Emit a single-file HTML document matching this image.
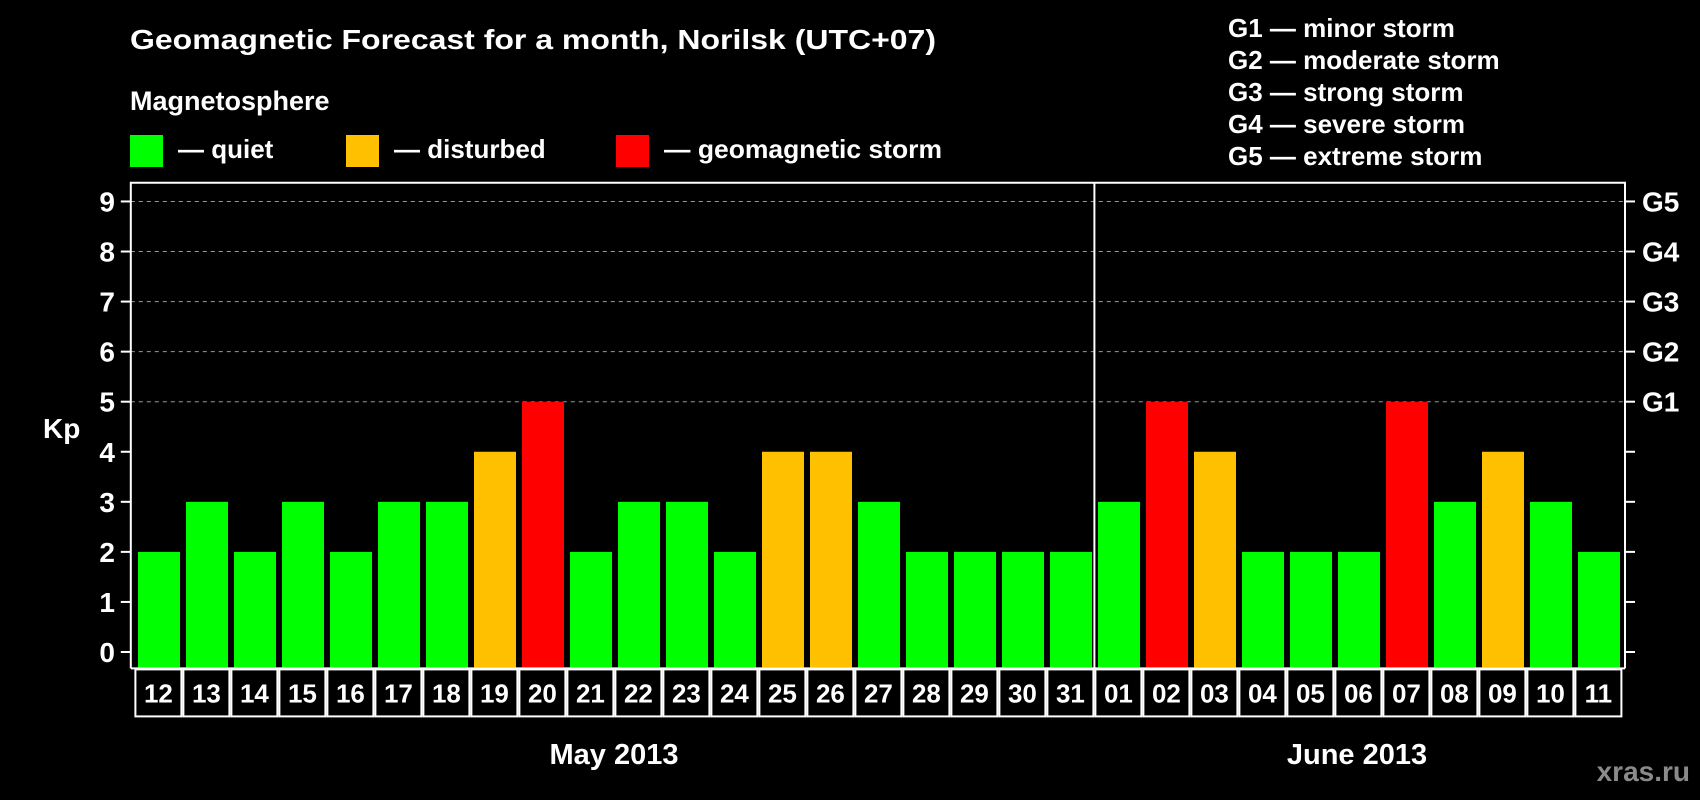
<!DOCTYPE html>
<html><head><meta charset="utf-8"><style>
html,body{margin:0;padding:0;background:#000;width:1700px;height:800px;overflow:hidden}
svg{display:block;font-family:"Liberation Sans",Arial,sans-serif;font-weight:bold}
</style></head><body>
<svg id="chart" width="1700" height="800" viewBox="0 0 1700 800" xmlns="http://www.w3.org/2000/svg">
<rect width="1700" height="800" fill="#000"/>
<text x="130" y="49" fill="#fff" font-size="28" textLength="806" lengthAdjust="spacingAndGlyphs">Geomagnetic Forecast for a month, Norilsk (UTC+07)</text>
<text x="130" y="110" fill="#fff" font-size="27">Magnetosphere</text>
<g><rect x="130" y="135" width="33" height="32" fill="#00ff00"/><text x="178" y="158" fill="#fff" font-size="26">— quiet</text></g>
<g><rect x="346" y="135" width="33" height="32" fill="#ffc000"/><text x="394" y="158" fill="#fff" font-size="26">— disturbed</text></g>
<g><rect x="616" y="135" width="33" height="32" fill="#ff0000"/><text x="664" y="158" fill="#fff" font-size="26" textLength="278" lengthAdjust="spacingAndGlyphs">— geomagnetic storm</text></g>
<g fill="#fff" font-size="26">
<text x="1228" y="37">G1 — minor storm</text>
<text x="1228" y="69">G2 — moderate storm</text>
<text x="1228" y="101">G3 — strong storm</text>
<text x="1228" y="133">G4 — severe storm</text>
<text x="1228" y="165">G5 — extreme storm</text>
</g>
<text x="43" y="438" fill="#fff" font-size="28">Kp</text>
<g id="grid"></g><g id="bars"></g><g id="axes"></g><g id="days"></g>
<text x="614" y="764" fill="#fff" font-size="29" text-anchor="middle">May 2013</text>
<text x="1357" y="764" fill="#fff" font-size="29" text-anchor="middle">June 2013</text>
<text x="1690" y="781" fill="#8a8a8a" font-size="28" text-anchor="end">xras.ru</text>
</svg>
<script>
const days = ["12","13","14","15","16","17","18","19","20","21","22","23","24","25","26","27","28","29","30","31","01","02","03","04","05","06","07","08","09","10","11"];
const kpValues = [2,3,2,3,2,3,3,4,5,2,3,3,2,4,4,3,2,2,2,2,3,5,4,2,2,2,5,3,4,3,2];
const yTicks = [0,1,2,3,4,5,6,7,8,9];
const gLabels = ["G1","G2","G3","G4","G5"];
const gLevels = [5,6,7,8,9];
const monthSplitIndex = 20;

const NS="http://www.w3.org/2000/svg";
const L=130.8,R=1625,T=182.7,B=668.4,x0=134.4,bw=48;
const y=v=>652-v*50.06;
const x=i=>x0+i*bw;
function mk(tag,attrs,parent){const e=document.createElementNS(NS,tag);for(const k in attrs)e.setAttribute(k,attrs[k]);parent.appendChild(e);return e;}
const grid=document.getElementById('grid'),bars=document.getElementById('bars'),axes=document.getElementById('axes'),dg=document.getElementById('days');
yTicks.forEach(v=>{
  if(v>=5){const g=mk('line',{x1:L,x2:R,y1:y(v),y2:y(v),stroke:'#999','stroke-width':1,'stroke-dasharray':'4,4'},grid);
  
  }
  const t=mk('line',{x1:L-10,x2:L,y1:y(v),y2:y(v),stroke:'#fff','stroke-width':2},axes);
  
  
  const rt=mk('line',{x1:R,x2:R+10,y1:y(v),y2:y(v),stroke:'#fff','stroke-width':2},axes);
  
  
  const l=mk('text',{x:115,y:y(v)+10,fill:'#fff','font-size':28,'text-anchor':'end'},axes);l.textContent=v;
  
  
});
gLabels.forEach((g,i)=>{
  const t=mk('text',{x:1642,y:y(gLevels[i])+10,fill:'#fff','font-size':28},axes);t.textContent=g;
  
  
});
kpValues.forEach((v,i)=>{
  const c=v>=5?'#ff0000':(v>=4?'#ffc000':'#00ff00');
  const r=mk('rect',{x:x(i)+3.6,y:y(v),width:42,height:B-1-y(v),fill:c},bars);
  
  
  const b=mk('rect',{x:x(i)+1,y:B+1,width:bw-2,height:47,fill:'none',stroke:'#fff','stroke-width':2},dg);
  
  
  const t=mk('text',{x:x(i)+bw/2,y:B+34,fill:'#fff','font-size':26,'text-anchor':'middle'},dg);t.textContent=days[i];
  
  
});
const frame=mk('path',{d:`M${L},${B} L${L},${T} L${R},${T} L${R},${B}`,fill:'none',stroke:'#fff','stroke-width':2},axes);


const bl=mk('line',{x1:L,x2:R,y1:B,y2:B,stroke:'#fff','stroke-width':2},axes);


const dv=mk('line',{x1:x(monthSplitIndex),x2:x(monthSplitIndex),y1:T,y2:B,stroke:'#fff','stroke-width':2},axes);


</script>
</body></html>
